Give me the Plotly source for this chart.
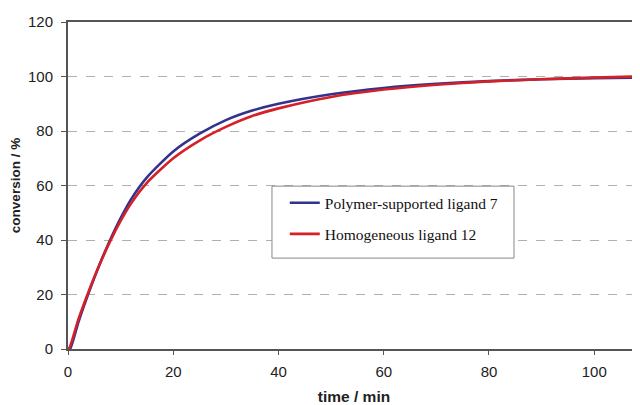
import plotly.graph_objects as go

time_min = [0, 0.4, 2, 4, 6, 8, 10, 12, 15, 20, 25, 30, 35, 40, 50, 60, 70, 80, 90, 100, 108]
polymer_supported = [0, 0, 10, 21, 31, 40, 48, 55, 63, 72.5, 79, 84, 87.5, 90, 93.5, 95.8, 97.3, 98.3, 99, 99.4, 99.6]
time_min_homog = [0, 0.3, 2, 4, 6, 8, 10, 12, 15, 20, 25, 30, 35, 40, 50, 60, 70, 80, 90, 100, 108]
homogeneous = [0, 0.5, 11, 21.5, 31, 39.5, 47, 53.5, 61, 70, 76.5, 81.5, 85.5, 88.3, 92.5, 95.2, 97, 98.2, 99, 99.6, 100]

y_ticks = [0, 20, 40, 60, 80, 100, 120]
x_ticks = [0, 20, 40, 60, 80, 100]

fig = go.Figure()
fig.add_trace(go.Scatter(x=time_min, y=polymer_supported, mode="lines",
                         name="Polymer-supported ligand 7", legendgroup="a",
                         line=dict(color="#33338f", width=2.6, shape="spline", smoothing=0.6)))
fig.add_trace(go.Scatter(x=time_min_homog, y=homogeneous, mode="lines",
                         name="Homogeneous ligand 12", legendgroup="b",
                         line=dict(color="#d42027", width=2.6, shape="spline", smoothing=0.6)))

# legend frame (wider left padding than plotly's own legend box)
fig.add_shape(type="rect", xref="paper", yref="paper",
              x0=0.3566, x1=0.7797, y0=0.278, y1=0.498,
              fillcolor="white", line=dict(color="#888", width=1), layer="above")

# The page body has an 8px default margin, so the figure is sized 632x397.
fig.update_layout(
    width=632, height=397,
    margin=dict(l=60, r=0, t=14, b=56),
    paper_bgcolor="white", plot_bgcolor="white",
    font=dict(family="Liberation Sans, Arial, sans-serif", size=15, color="#222"),
    showlegend=True,
    legend=dict(x=0.379, y=0.498, xanchor="left", yanchor="top",
                bgcolor="rgba(0,0,0,0)", borderwidth=0,
                font=dict(family="Liberation Serif, Times New Roman, serif", size=15.5, color="#111"),
                traceorder="grouped", tracegroupgap=8),
)
fig.update_xaxes(range=[0, 108.7], tickvals=x_ticks, showgrid=False, zeroline=False,
                 showline=True, linecolor="#555", linewidth=2, mirror=True,
                 ticks="outside", ticklen=4, tickcolor="#555", automargin=False,
                 ticklabelstandoff=4,
                 title=dict(text="<b>time / min</b>", font=dict(size=15.5), standoff=12))
fig.update_yaxes(range=[0, 120], tickvals=y_ticks, showgrid=True, gridcolor="#b0b0b0",
                 griddash="dash", gridwidth=1, zeroline=False,
                 showline=True, linecolor="#555", linewidth=2,
                 ticks="outside", ticklen=5, tickcolor="#555", automargin=False,
                 ticklabelstandoff=5,
                 title=dict(text="<b>conversion / %</b>", font=dict(size=13.5), standoff=10))

fig.write_html("out.html")
